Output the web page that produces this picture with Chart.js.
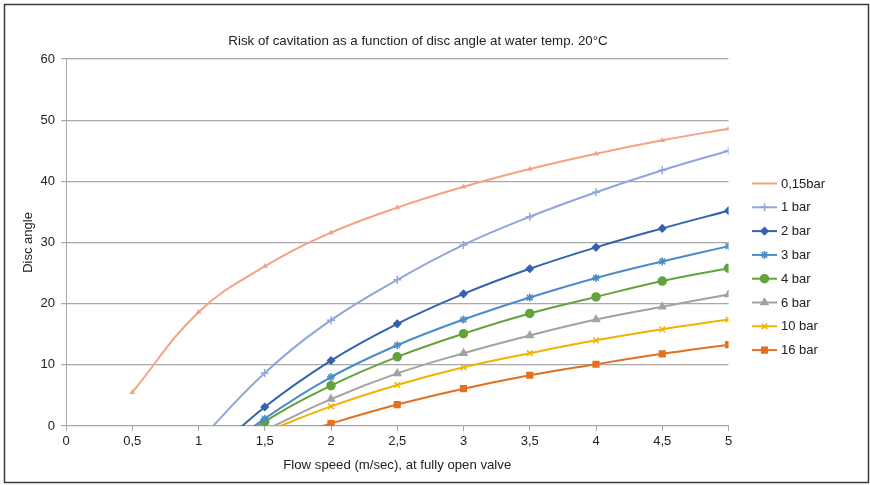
<!DOCTYPE html>
<html>
<head>
<meta charset="utf-8">
<script src="https://cdn.jsdelivr.net/npm/chart.js@4/dist/chart.umd.min.js"></script>
<style>
  html, body { margin: 0; padding: 0; background: #fff; }
  canvas { display: block; }
</style>
</head>
<body>
<canvas id="chartCanvas" width="870" height="485"></canvas>
<script>
// Cavitation risk chart: disc angle vs flow speed, one line per pressure.

const flowSpeeds = [0.5, 1, 1.5, 2, 2.5, 3, 3.5, 4, 4.5, 5];
const xTickLabels = ['0', '0,5', '1', '1,5', '2', '2,5', '3', '3,5', '4', '4,5', '5'];
const seriesNames = ['0,15bar', '1 bar', '2 bar', '3 bar', '4 bar', '6 bar', '10 bar', '16 bar'];

// values below 0 are the clipped start of each curve (estimated)
const bar015 = [5.5, 18.6, 26.1, 31.6, 35.7, 39.1, 42.0, 44.5, 46.7, 48.6];
const bar1 = [null, -2.5, 8.65, 17.3, 23.9, 29.6, 34.2, 38.2, 41.8, 45.0];
const bar2 = [null, -6.5, 3.1, 10.7, 16.7, 21.6, 25.7, 29.2, 32.3, 35.2];
const bar3 = [null, -7, 1.2, 8.0, 13.2, 17.4, 21.0, 24.2, 26.9, 29.4];
const bar4 = [null, -7, 0.7, 6.6, 11.3, 15.1, 18.4, 21.1, 23.7, 25.8];
const bar6 = [null, null, -0.7, 4.4, 8.6, 11.9, 14.8, 17.4, 19.5, 21.5];
const bar10 = [null, null, -1, 3.2, 6.7, 9.6, 11.9, 14.0, 15.8, 17.4];
const bar16 = [null, null, -3, 0.4, 3.5, 6.1, 8.3, 10.1, 11.8, 13.3];

const seriesValues = [bar015, bar1, bar2, bar3, bar4, bar6, bar10, bar16];
const seriesColors = ['#f4a283', '#8ea6da', '#3562ad', '#4a8bc9', '#63a33c', '#a2a2a2', '#f0b300', '#e2701f'];
const seriesMarkers = ['triangle', 'cross', 'rectRot', 'star', 'circle', 'triangle', 'crossRot', 'rect'];
const markerSizes = [1.8, 4, 3.5, 4, 4, 4, 4, 4];

const FONT = "'Liberation Sans', Arial, Helvetica, sans-serif";
const gridColor = '#a9a9a9';

Chart.defaults.font.family = FONT;
Chart.defaults.font.size = 13;
Chart.defaults.color = '#333';

const datasets = seriesNames.map((name, i) => {
  const color = seriesColors[i];
  const size = markerSizes[i];
  return {
    label: name,
    data: flowSpeeds
      .map((x, k) => ({ x, y: seriesValues[i][k] }))
      .filter(p => p.y !== null),
    borderColor: color,
    backgroundColor: color,
    borderWidth: 2,
    tension: 0.4,
    pointStyle: seriesMarkers[i],
    pointRadius: ctx => (ctx.raw && ctx.raw.y < 0 ? 0 : size),
    pointHoverRadius: size,
    pointBackgroundColor: color,
    pointBorderColor: color,
    pointBorderWidth: 1.5
  };
});

// white page with the dark frame round it
const framePlugin = {
  id: 'frame',
  beforeDraw(chart) {
    const { ctx, width, height } = chart;
    ctx.save();
    ctx.fillStyle = '#fff';
    ctx.fillRect(0, 0, width, height);
    ctx.restore();
  },
  afterDraw(chart) {
    const { ctx } = chart;
    ctx.save();
    ctx.strokeStyle = '#3a3a3a';
    ctx.lineWidth = 1.5;
    ctx.strokeRect(4.5, 4.5, 864, 478);
    ctx.restore();
  }
};

// legend with a line + marker sample, as in the original
const lineLegendPlugin = {
  id: 'lineLegend',
  afterDraw(chart) {
    const { ctx } = chart;
    const x0 = 752, x1 = 777, textX = 781;
    const y0 = 183.5, step = 23.8;
    ctx.save();
    chart.data.datasets.forEach((ds, i) => {
      const y = y0 + i * step;
      ctx.strokeStyle = ds.borderColor;
      ctx.lineWidth = 2;
      ctx.beginPath();
      ctx.moveTo(x0, y);
      ctx.lineTo(x1, y);
      ctx.stroke();
      if (i > 0 && Chart.helpers && Chart.helpers.drawPoint) {
        ctx.fillStyle = ds.borderColor;
        ctx.strokeStyle = ds.borderColor;
        ctx.lineWidth = 1.5;
        Chart.helpers.drawPoint(ctx, {
          pointStyle: ds.pointStyle,
          radius: markerSizes[i],
          rotation: 0,
          borderWidth: 1.5
        }, (x0 + x1) / 2, y);
      }
      ctx.fillStyle = '#222';
      ctx.font = '13px ' + FONT;
      ctx.textAlign = 'left';
      ctx.textBaseline = 'middle';
      ctx.fillText(ds.label, textX, y + 0.5);
    });
    ctx.restore();
  }
};

new Chart(document.getElementById('chartCanvas').getContext('2d'), {
  type: 'line',
  data: { datasets },
  plugins: [framePlugin, lineLegendPlugin],
  options: {
    responsive: false,
    animation: false,
    layout: { padding: { top: 3, right: 34, bottom: 0, left: 0 } },
    plugins: {
      legend: { display: false },
      tooltip: { enabled: false },
      title: {
        display: true,
        text: 'Risk of cavitation as a function of disc angle at water temp. 20°C',
        color: '#222',
        font: { size: 13.3, weight: 'normal', family: FONT },
        padding: { top: 30, bottom: 10 }
      }
    },
    scales: {
      x: {
        type: 'linear',
        min: 0,
        max: 5,
        afterFit: scale => { scale.height = 59; },
        ticks: {
          stepSize: 0.5,
          padding: 3,
          maxRotation: 0,
          autoSkip: false,
          color: '#222',
          callback: (value, index) => xTickLabels[index]
        },
        grid: { drawOnChartArea: false, color: gridColor, tickLength: 5 },
        border: { color: gridColor },
        title: {
          display: true,
          text: 'Flow speed (m/sec), at fully open valve',
          color: '#222',
          font: { size: 13.2 },
          padding: { top: 0, bottom: 12 }
        }
      },
      y: {
        min: 0,
        max: 60,
        afterFit: scale => { scale.width = 66; },
        ticks: { stepSize: 10, padding: 6, color: '#222' },
        grid: { color: gridColor, tickLength: 5, lineWidth: 1.2 },
        border: { color: gridColor },
        title: {
          display: true,
          text: 'Disc angle',
          color: '#222',
          padding: { top: 20.5, bottom: 0 }
        }
      },
      // empty right-hand box that keeps the room for the legend
      legendRoom: {
        position: 'right',
        display: true,
        afterFit: scale => { scale.width = 107.5; },
        ticks: { display: false },
        grid: { display: false },
        border: { display: false }
      }
    }
  }
});
</script>
</body>
</html>
